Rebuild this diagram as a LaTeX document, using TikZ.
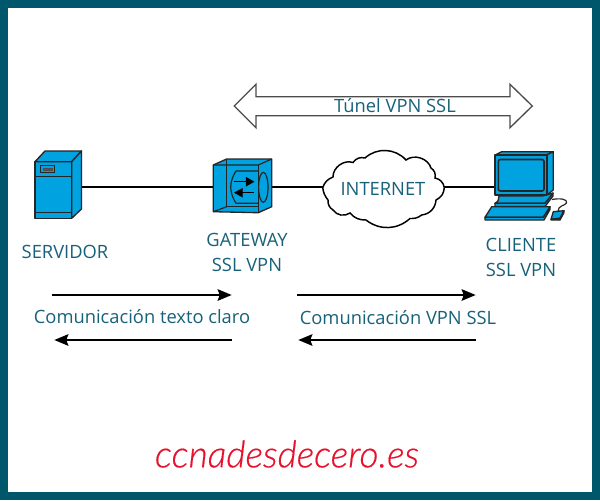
\documentclass[tikz,border=0pt]{standalone}
\usepackage{fontspec}
\setmainfont{Open Sans}
\newfontfamily\handfont[FakeBold=0.4]{Lato Light Italic}
\usetikzlibrary{arrows.meta}
\definecolor{framecol}{HTML}{00576B}
\definecolor{labelcol}{HTML}{17627A}
\definecolor{iconblue}{HTML}{00A2E0}
\definecolor{handred}{HTML}{E8112D}
\tikzset{
  lab/.style={text=labelcol,font=\fontsize{13.75pt}{18.5pt}\selectfont,align=center,inner sep=0pt},
  wire/.style={draw=black,line width=2.2pt},
  flow/.style={draw=black,line width=1.9pt,-{Stealth[length=10.5pt,width=8.5pt,inset=1.5pt]}},
  icon/.style={draw=black!85,fill=iconblue,line width=1pt,line join=round},
  iconthin/.style={draw=black!85,line width=.9pt,line join=round},
  anchorpt/.style={inner sep=0pt,minimum size=0pt},
}
\begin{document}
\begin{tikzpicture}[x=0.75pt,y=-0.75pt]
\useasboundingbox (0,0) rectangle (600,500);
\fill[framecol] (0,0) rectangle (600,500);
\fill[white] (8,8) rectangle (592,492);

% tunnel
\draw[draw=black!70,line width=1pt,fill=white,line join=miter]
  (234.3,106) -- (256,84.3) -- (256,96.7) -- (510,96.7) -- (510,84.3) -- (532.3,106)
  -- (510,127.7) -- (510,115.7) -- (256,115.7) -- (256,127.7) -- cycle;
\node[lab] (tunnel) at (395,106) {Túnel VPN SSL};

% connection points
\node[anchorpt] (srvport) at (81,187) {};
\node[anchorpt] (gwin) at (213,187) {};
\node[anchorpt] (gwout) at (272,187) {};
\node[anchorpt] (cloudin) at (323,187) {};
\node[anchorpt] (cloudout) at (444,187) {};
\node[anchorpt] (pcport) at (495,187) {};
\draw[wire] (srvport) -- (gwin);
\draw[wire] (gwout) -- (cloudin);
\draw[wire] (cloudout) -- (pcport);

% server
\draw[icon] (35,161.7) rectangle (71.7,218.3);
\draw[icon] (35,161.7) -- (45,151) -- (81.5,151) -- (71.7,161.7) -- cycle;
\draw[icon] (71.7,161.7) -- (81.5,151) -- (81.5,209) -- (71.7,218.3) -- cycle;
\draw[iconthin] (35,176.7) -- (71.7,176.7) (35,212.7) -- (71.7,212.7);
\draw[iconthin,line width=1.2pt] (40.5,165.5) rectangle (54.3,172.3);
\draw[draw=black!70,line width=.5pt,fill=iconblue!70!black] (43,168) rectangle (52,170);

% gateway
\draw[icon] (213.3,165) -- (226.7,159) -- (271.7,159) -- (271.7,206.7) -- (258.3,212.7) -- (213.3,211.7) -- cycle;
\draw[iconthin] (213.3,165) -- (258.3,165) -- (271.7,159);
\draw[iconthin] (258.3,165) -- (258.3,212.7);
\draw[iconthin] (226.7,159) -- (226.7,206.7) -- (258.3,206.7);
\draw[iconthin] (213.3,211.7) -- (226.7,206.7);
\draw[iconthin] (258.3,171) -- (236,171) .. controls (229,182) and (229,192) .. (236,203.3) -- (258.3,203.3);
\draw[iconthin] (263.3,187.3) ellipse (4.7 and 15);
\draw[draw=black,line width=.9pt,-{Stealth[length=6.5pt,width=7pt,inset=0pt]}] (233.5,181.7) -- (254.5,181.7);
\draw[draw=black,line width=.9pt,-{Stealth[length=6.5pt,width=7pt,inset=0pt]}] (254,192.7) -- (234,192.7);

% cloud
\draw[draw=black,line width=1.1pt,fill=white]
  (322.7,187.7) to[bend left=25] (333,177)
  to[bend left=55] (353,162.5)
  to[bend left=35] (365,158)
  to[bend left=45] (406,160)
  to[bend left=55] (431,168)
  to[bend left=35] (435,178)
  to[bend left=35] (444.3,187.7)
  to[bend left=30] (436,200)
  to[bend left=40] (421.7,215)
  to[bend left=20] (410,218.5)
  to[bend left=40] (366,220)
  to[bend left=25] (350,213)
  to[bend left=45] (333,210)
  to[bend left=30] (328,200)
  to[bend left=15] cycle;
\node[lab] (inet) at (383,188.5) {INTERNET};

% computer
\draw[icon] (495,155) -- (501.7,151.7) -- (553.3,151.7) -- (546.7,155) -- cycle;
\draw[icon] (546.7,155) -- (553.3,151.7) -- (553.3,190) -- (546.7,195) -- cycle;
\draw[icon,line width=1.2pt] (495,155) rectangle (546.7,195);
\draw[icon,line width=1.2pt,rounded corners=1.5pt] (498.3,159.5) rectangle (544,191);
\draw[icon] (503,195) rectangle (541.7,198);
\draw[icon] (499,196) -- (498,201) -- (495,203.3) -- (545,203.3) -- (548,200) -- (553,193) -- (546.7,195) -- (541.7,196) -- cycle;
\draw[icon] (495,203.3) -- (495,206.5) -- (545,206.5) -- (553,196) -- (553,193) -- (545,203.3) -- cycle;
\draw[icon] (502,206.5) rectangle (538,208);
\draw[icon] (491.7,206.7) -- (550,206.7) -- (543.3,217.3) -- (485,217.3) -- cycle;
\draw[icon] (485,217.3) -- (543.3,217.3) -- (550,206.7) -- (550,209.5) -- (544,220) -- (485,220) -- cycle;
\draw[iconthin,fill=none] (552,199.5) .. controls (560,198) and (568,199) .. (566.5,203) .. controls (565,206) and (558,205) .. (558,211.5);
\draw[icon] (553.3,211.7) -- (564,210.7) -- (560,218.3) -- (551,219.3) -- cycle;
\draw[icon] (551,219.3) -- (560,218.3) -- (564,210.7) -- (563.8,213) -- (560,220) -- (551,220) -- cycle;

% labels
\node[lab] (srvlab) at (65,252) {SERVIDOR};
\node[lab] (gwlab) at (247,252.5) {GATEWAY\\SSL VPN};
\node[lab] (pclab) at (521,257.5) {CLIENTE\\SSL VPN};

% flows
\node[anchorpt] (a1) at (52,295) {};
\node[anchorpt] (a2) at (232,295) {};
\node[anchorpt] (a3) at (232,340) {};
\node[anchorpt] (a4) at (54,340) {};
\node[anchorpt] (b1) at (297,295) {};
\node[anchorpt] (b2) at (476,295) {};
\node[anchorpt] (b3) at (476,340) {};
\node[anchorpt] (b4) at (298,340) {};
\draw[flow] (a1) -- (a2);
\draw[flow] (a3) -- (a4);
\draw[flow] (b1) -- (b2);
\draw[flow] (b3) -- (b4);
\node[lab] (t1) at (142,316.5) {Comunicación texto claro};
\node[lab] (t2) at (398,317.5) {Comunicación VPN SSL};

% brand
\node[text=handred,inner sep=0pt] (brand) at (287,454) {\resizebox{198pt}{!}{\handfont ccnadesdecero.es}};
\end{tikzpicture}
\end{document}
